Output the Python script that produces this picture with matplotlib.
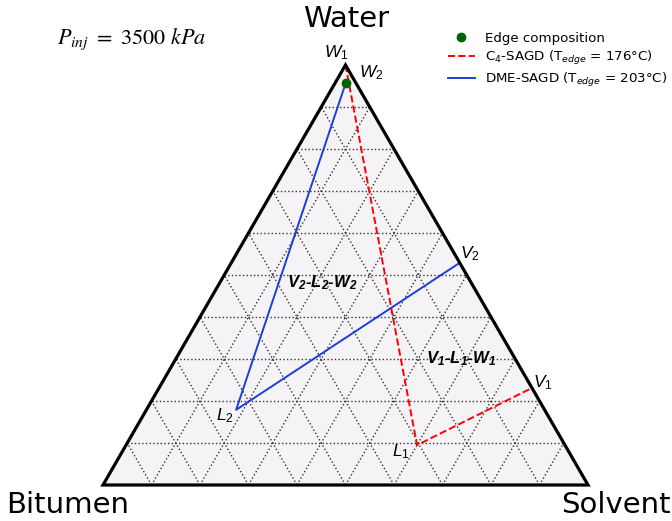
import numpy as np
import matplotlib.pyplot as plt
from matplotlib.font_manager import FontProperties
from matplotlib.patches import Polygon

plt.rcParams['mathtext.fontset'] = 'custom'
plt.rcParams['mathtext.rm'] = 'Liberation Sans'
plt.rcParams['mathtext.it'] = 'Liberation Sans:italic'
plt.rcParams['mathtext.bf'] = 'Liberation Sans:italic:bold'

# tie-triangle compositions (water, solvent fractions; bitumen is the rest)
# order: W (aqueous), L (oleic), V (vapour)
c4_water = [1.000, 0.095, 0.231]
c4_solvent = [0.000, 0.600, 0.769]
dme_water = [0.957, 0.179, 0.529]
dme_solvent = [0.022, 0.185, 0.471]
edge_water = [0.957]
edge_solvent = [0.022]

c4_names = [r'$\mathit{W_1}$', r'$\mathit{L_1}$', r'$\mathit{V_1}$']
dme_names = [r'$\mathit{W_2}$', r'$\mathit{L_2}$', r'$\mathit{V_2}$']
grid_levels = np.arange(1, 10) / 10


def to_xy(water, solvent):
    water = np.asarray(water, dtype=float)
    solvent = np.asarray(solvent, dtype=float)
    return solvent + water / 2, water * np.sqrt(3) / 2


fig = plt.figure(figsize=(6.72, 5.21), dpi=100)
ax = fig.add_axes([0, 0, 1, 1])
ax.set_xlim(-103 / 485, 569 / 485)
ax.set_ylim(-36 / 485, 1.0)
ax.axis('off')

# triangle body
cx, cy = to_xy([0, 0, 1], [0, 1, 0])
ax.add_patch(Polygon(np.column_stack([cx, cy]), closed=True, facecolor='#f5f3f5',
                     edgecolor='none', zorder=0))

# dotted 10 % grid, parallel to each side
for g in grid_levels:
    for w, s in [([g, g], [0, 1 - g]),          # constant water
                 ([0, 1 - g], [g, g]),          # constant solvent
                 ([0, 1 - g], [1 - g, 0])]:     # constant bitumen
        gx, gy = to_xy(w, s)
        ax.plot(gx, gy, ls=':', lw=1.0, color='0.2', zorder=1)

ax.add_patch(Polygon(np.column_stack([cx, cy]), closed=True, facecolor='none',
                     edgecolor='black', lw=2.3, zorder=5, joinstyle='miter'))

# tie lines W-L-V
x1, y1 = to_xy(c4_water, c4_solvent)
x2, y2 = to_xy(dme_water, dme_solvent)
ax.plot(x1, y1, ls='--', color='red', lw=1.4, zorder=3,
        label=r'C$_4$-SAGD (T$_{edge}$ = 176°C)')
ax.plot(x2, y2, ls='-', color='#1a3fd6', lw=1.4, zorder=3,
        label=r'DME-SAGD (T$_{edge}$ = 203°C)')
ex, ey = to_xy(edge_water, edge_solvent)
ax.plot(ex, ey, 'o', color='darkgreen', ms=6, ls='none', zorder=4,
        label='Edge composition')

# point labels
c4_offsets = [(-9, 12), (-16, -7), (11, 5)]
dme_offsets = [(26, 10), (-11, -6), (10, 9)]
for xs, ys, names, offs in [(x1, y1, c4_names, c4_offsets),
                            (x2, y2, dme_names, dme_offsets)]:
    for px, py, name, off in zip(xs, ys, names, offs):
        ax.annotate(name, (px, py), xytext=off, textcoords='offset pixels',
                    ha='center', va='center', fontsize=12.5)

ax.text((322 - 103) / 485, (485 - 283) / 485, r'$\mathbf{V_2}$-$\mathbf{L_2}$-$\mathbf{W_2}$',
        family='Liberation Sans', fontweight='bold', fontstyle='italic',
        fontsize=12, ha='center', va='center')
ax.text((461 - 103) / 485, (485 - 359) / 485, r'$\mathbf{V_1}$-$\mathbf{L_1}$-$\mathbf{W_1}$',
        family='Liberation Sans', fontweight='bold', fontstyle='italic',
        fontsize=12, ha='center', va='center')

# vertex names
fig.text(346 / 672, 1 - 19 / 521, 'Water', fontsize=21, ha='center', va='center')
fig.text(68 / 672, 1 - 505 / 521, 'Bitumen', fontsize=21, ha='center', va='center')
fig.text(671 / 672, 1 - 505 / 521, 'Solvent', fontsize=21, ha='right', va='center')

fig.text(57 / 672, 1 - 39 / 521, r'$P_{inj}\ =\ 3500\ kPa$', math_fontfamily='stix',
         fontsize=16, ha='left', va='center')

handles, labels = ax.get_legend_handles_labels()
order = [2, 0, 1]
fig.legend([handles[i] for i in order], [labels[i] for i in order],
           loc='upper left', bbox_to_anchor=(436 / 672, 1 - 20 / 521),
           frameon=False, labelspacing=0.3, handlelength=2.0,
           prop=FontProperties(family='DejaVu Sans', size=9.6, math_fontfamily='dejavusans'))

fig.savefig('out.png', dpi=100)
